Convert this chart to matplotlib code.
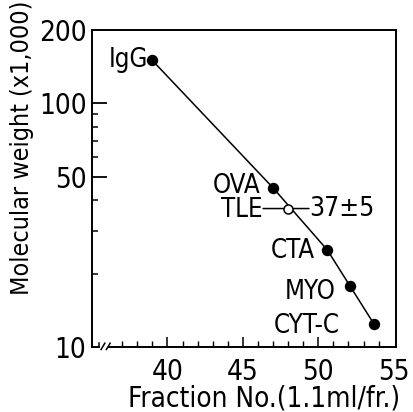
import matplotlib
matplotlib.use("Agg")
import matplotlib.pyplot as plt
from matplotlib.ticker import FixedLocator, NullFormatter

plt.rcParams['font.family'] = ['DejaVu Sans']
plt.rcParams['font.stretch'] = 'condensed'

# marker proteins: fraction number vs molecular weight (x1,000)
names = ["IgG", "OVA", "CTA", "MYO", "CYT-C"]
fraction = [39, 47, 50.6, 52.1, 53.7]
mw = [150, 45, 25, 17.8, 12.4]

# sample
tle_fraction = 48
tle_mw = 37
tle_text = "37\u00b15"

# label offsets (points) relative to each marker
label_dx = [-3, -9, -9, -10, -25]
label_dy = [0, 1, -1, -4, -1]

fig = plt.figure(figsize=(4.13, 4.12), dpi=100)
ax = fig.add_axes([0.2228, 0.1578, 0.7360, 0.7694])

ax.plot(fraction, mw, color="black", lw=1.1, zorder=2)
ax.plot(fraction, mw, "o", color="black", ms=7.2, zorder=3)
ax.plot([tle_fraction], [tle_mw], "o", mfc="white", mec="black", mew=1.1,
        ms=6.5, zorder=4)

for n, x, y, dx, dy in zip(names, fraction, mw, label_dx, label_dy):
    ax.annotate(n, xy=(x, y), xytext=(dx, dy), textcoords="offset points",
                ha="right", va="center", fontsize=18.5)

# TLE with its value, joined by a short line through the open circle
for dx in (-18, 15):
    ax.annotate("", xy=(tle_fraction, tle_mw), xytext=(dx, 0),
                textcoords="offset points",
                arrowprops=dict(arrowstyle="-", lw=1.1, shrinkA=0, shrinkB=0),
                zorder=1)
ax.annotate("TLE", xy=(tle_fraction, tle_mw), xytext=(-18, -1),
            textcoords="offset points", ha="right", va="center", fontsize=18.5)
ax.annotate(tle_text, xy=(tle_fraction, tle_mw), xytext=(15, 0),
            textcoords="offset points", ha="left", va="center", fontsize=19)

ax.set_yscale("log")
ax.set_xlim(35, 55.15)
ax.set_ylim(10, 200)

# y axis ticks
ax.yaxis.set_major_locator(FixedLocator([10, 50, 100, 200]))
ax.set_yticklabels(["10", "50", "100", "200"])
ax.yaxis.set_minor_locator(FixedLocator([20, 30, 40, 60, 70, 80, 90]))
ax.yaxis.set_minor_formatter(NullFormatter())
ax.tick_params(axis="y", which="major", direction="in", length=11, width=1.3,
               pad=4, labelsize=20)
ax.tick_params(axis="y", which="minor", direction="in", length=4, width=1.1)
for t in (ax.yaxis.get_major_ticks()[0], ax.yaxis.get_major_ticks()[-1]):
    t.tick1line.set_visible(False)

# x axis ticks
ax.xaxis.set_major_locator(FixedLocator([40, 45, 50, 55]))
ax.xaxis.set_minor_locator(FixedLocator(list(range(37, 55))))
ax.tick_params(axis="x", which="major", direction="in", length=7, width=1.1,
               pad=8, labelsize=20)
ax.tick_params(axis="x", which="minor", direction="in", length=4, width=1.0)
ax.xaxis.get_major_ticks()[-1].tick1line.set_visible(False)

for s in ax.spines.values():
    s.set_linewidth(1.4)

# broken x axis near the origin
ax.spines["bottom"].set_bounds(36.1, 55.15)
ax.plot([35, 35.45], [0, 0], color="black", lw=1.4, transform=ax.get_xaxis_transform(),
        clip_on=False)
ax.plot([35.45, 35.45], [0, 0.012], color="black", lw=1.1,
        transform=ax.get_xaxis_transform(), clip_on=False)
for bx in (35.6, 35.95):
    ax.plot([bx, bx + 0.25], [-0.008, 0.012], color="black", lw=1.1,
            transform=ax.get_xaxis_transform(), clip_on=False)

ax.set_xlabel("Fraction No.(1.1ml/fr.)", fontsize=20)
ax.xaxis.set_label_coords(0.565, -0.118)
ax.set_ylabel("Molecular weight (x1,000)", fontsize=18)
ax.yaxis.set_label_coords(-0.19, 0.63)

fig.savefig("out.png", dpi=100)
